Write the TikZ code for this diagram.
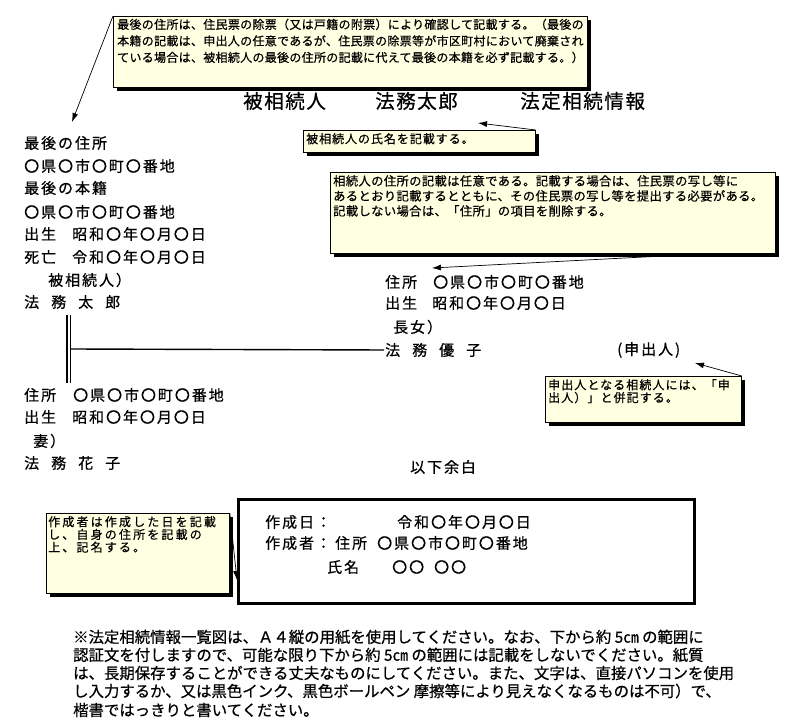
\documentclass[tikz,border=0pt]{standalone}
\usepackage{fontspec}
\setmainfont{Noto Sans CJK JP}[FakeBold=0.6]
\usetikzlibrary{arrows.meta,shadows}
\definecolor{notefill}{RGB}{255,255,225}
\newcommand\fbody{\fontsize{15}{18}\selectfont\addfontfeature{LetterSpace=13}}
\newcommand\ftitle{\fontsize{19.5}{22}\selectfont\addfontfeature{LetterSpace=8}}
\newcommand\ffoot{\fontsize{15.4}{18.3}\selectfont}
\begin{document}
\begin{tikzpicture}[x=1pt,y=-1pt,
  txt/.style={anchor=west,inner sep=0pt,font=\fbody},
  ttl/.style={anchor=west,inner sep=0pt,font=\ftitle},
  foot/.style={anchor=west,inner sep=0pt,font=\ffoot},
  note/.style={draw=black,line width=0.8pt,fill=notefill,
    drop shadow={shadow xshift=4pt,shadow yshift=-4pt,fill=black,opacity=1},
    inner sep=0pt,anchor=north west},
  notetext/.style={anchor=north west,inner sep=0pt,align=left},
  pointer/.style={line width=0.7pt,-{Latex[length=9pt,width=6pt]}},
  tree/.style={line width=1.4pt},
]
\useasboundingbox (0,0) rectangle (793,727);
\fill[white] (0,0) rectangle (793,727);

% title
\node[ttl] (t1) at (243,101) {被相続人};
\node[ttl] (t2) at (375,101) {法務太郎};
\node[ttl] (t3) at (520,101) {法定相続情報};

% deceased
\node[txt] (a1) at (24,143) {最後の住所};
\node[txt] (a2) at (24,166) {〇県〇市〇町〇番地};
\node[txt] (a3) at (24,188) {最後の本籍};
\node[txt] (a4) at (24,212) {〇県〇市〇町〇番地};
\node[txt] (a5) at (24,234) {出生};
\node[txt] (a5b) at (72,234) {昭和〇年〇月〇日};
\node[txt] (a6) at (24,257) {死亡};
\node[txt] (a6b) at (72,257) {令和〇年〇月〇日};
\node[txt] (a7) at (48,280) {被相続人）};
\node[txt] (a8) at (24,302) {法\kern12pt 務\kern12pt 太\kern12pt 郎};

% spouse
\node[txt] (b1) at (24,395) {住所};
\node[txt] (b1b) at (73,395) {〇県〇市〇町〇番地};
\node[txt] (b2) at (24,417) {出生};
\node[txt] (b2b) at (72,417) {昭和〇年〇月〇日};
\node[txt] (b3) at (33,441) {妻）};
\node[txt] (b4) at (24,463) {法\kern12pt 務\kern12pt 花\kern12pt 子};

% child
\node[txt] (c1) at (385,282) {住所};
\node[txt] (c1b) at (433,282) {〇県〇市〇町〇番地};
\node[txt] (c2) at (385,303) {出生};
\node[txt] (c2b) at (432,303) {昭和〇年〇月〇日};
\node[txt] (c3) at (393,327) {長女）};
\node[txt] (c4) at (385,350) {法\kern12pt 務\kern12pt 優\kern12pt 子};
\node[txt] (c5) at (617,350) {(申出人)};
\node[txt] (end) at (410,467) {以下余白};

% tree lines
\coordinate (m1) at (67,315);
\coordinate (m2) at (67,383);
\coordinate (m3) at (70.5,315);
\coordinate (m4) at (70.5,383);
\coordinate (br) at (70.5,349);
\draw[tree] (m1) -- (m2);
\draw[tree] (m3) -- (m4);
\draw[tree,shorten >=1pt] (br) -- (c4.west);

% signature box
\node[draw=black,line width=2.5pt,minimum width=456pt,minimum height=104pt,anchor=north west,inner sep=0pt] (sig) at (237,498) {};
\node[txt] (s1) at (265,522) {作成日：};
\node[txt] (s1b) at (397,522) {令和〇年〇月〇日};
\node[txt] (s2) at (265,543) {作成者：};
\node[txt] (s2b) at (335,543) {住所};
\node[txt] (s2c) at (377,543) {〇県〇市〇町〇番地};
\node[txt] (s3) at (327,567) {氏名};
\node[txt] (s3b) at (392,567) {〇〇\kern10pt 〇〇};

% footer
\node[foot] (f1) at (73,637) {※法定相続情報一覧図は、Ａ４縦の用紙を使用してください。なお、下から約 5㎝ の範囲に};
\node[foot] (f2) at (73,655) {認証文を付しますので、可能な限り下から約 5㎝ の範囲には記載をしないでください。紙質};
\node[foot] (f3) at (73,673) {は、長期保存することができる丈夫なものにしてください。また、文字は、直接パソコンを使用};
\node[foot] (f4) at (73,691) {し入力するか、又は黒色インク、黒色ボールペン 摩擦等により見えなくなるものは不可）で、};
\node[foot] (f5) at (73,710) {楷書ではっきりと書いてください。};

% callout 1
\node[note,minimum width=474pt,minimum height=71pt] (n1) at (113,16) {};
\node[notetext,font=\fontsize{12}{16.5}\selectfont\addfontfeature{LetterSpace=2.5}] (n1t) at (117,18.5)
 {最後の住所は、住民票の除票（又は戸籍の附票）により確認して記載する。（最後の\\
  本籍の記載は、申出人の任意であるが、住民票の除票等が市区町村において廃棄され\\
  ている場合は、被相続人の最後の住所の記載に代えて最後の本籍を必ず記載する。）};
\coordinate (p1) at (72,122);
\draw[pointer] (n1.north west) -- (p1);

% callout 2
\node[note,minimum width=232pt,minimum height=22pt] (n2) at (303,130) {};
\node[notetext,font=\fontsize{12}{15}\selectfont\addfontfeature{LetterSpace=8}] (n2t) at (306,133)
 {被相続人の氏名を記載する。};
\coordinate (p2) at (478,123);
\draw[pointer] (n2.north east) -- (p2);

% callout 3
\node[note,minimum width=445pt,minimum height=81pt] (n3) at (330,172) {};
\node[notetext,font=\fontsize{12.3}{15}\selectfont\addfontfeature{LetterSpace=3}] (n3t) at (333,175)
 {相続人の住所の記載は任意である。記載する場合は、住民票の写し等に\\
  あるとおり記載するとともに、その住民票の写し等を提出する必要がある。\\
  記載しない場合は、「住所」の項目を削除する。};
\coordinate (p3) at (432,268);
\draw[pointer] ([xshift=-70pt]n3.south east) -- (p3);

% callout 4
\node[note,minimum width=196pt,minimum height=46pt] (n4) at (545,376) {};
\node[notetext,font=\fontsize{12}{12.8}\selectfont\addfontfeature{LetterSpace=9}] (n4t) at (548,379)
 {申出人となる相続人には、「申\\
  出人）」と併記する。};
\coordinate (p4) at (695,363);
\draw[pointer] (n4.north east) -- (p4);

% callout 5
\node[note,minimum width=183pt,minimum height=80pt] (n5) at (46,513) {};
\node[notetext,font=\fontsize{12}{12.7}\selectfont\addfontfeature{LetterSpace=18}] (n5t) at (48,516)
 {作成者は作成した日を記載\\
  し、自身の住所を記載の\\
  上、記名する。};
\coordinate (p5) at (237,580);
\draw[pointer] (n5.north east) -- (p5);
\end{tikzpicture}
\end{document}
